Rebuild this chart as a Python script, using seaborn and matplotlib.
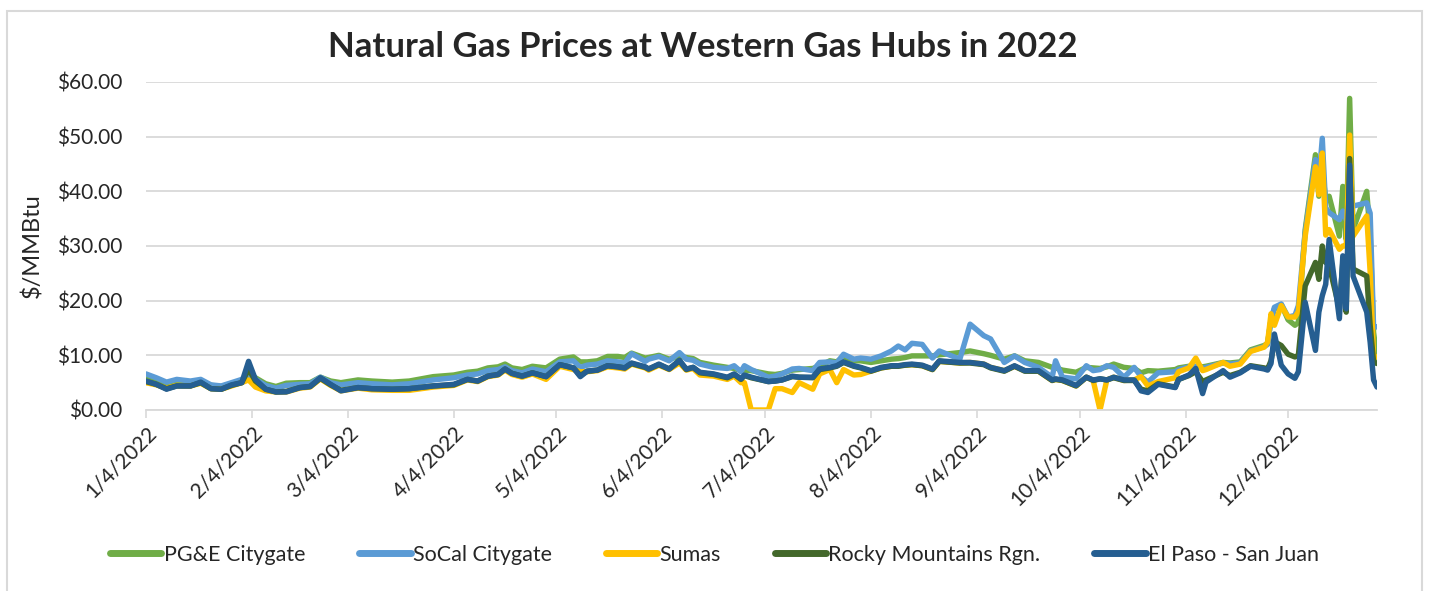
### natural gas prices at western hubs, 2022

import pandas as pd
import matplotlib.pyplot as plt
import matplotlib.dates as mdates
from matplotlib.patches import Rectangle
from matplotlib.ticker import FuncFormatter
import seaborn as sns

dates = [
    "01-04", "01-07", "01-10", "01-13", "01-17", "01-20", "01-23", "01-26", "01-29", "02-01",
    "02-03", "02-05", "02-08", "02-11", "02-14", "02-18", "02-21", "02-24", "02-27", "03-02",
    "03-07", "03-11", "03-17", "03-22", "03-29", "04-04", "04-08", "04-11", "04-14", "04-17",
    "04-19", "04-21", "04-24", "04-27", "05-01", "05-05", "05-09", "05-11", "05-13", "05-16",
    "05-19", "05-22", "05-24", "05-26", "05-30", "05-31", "06-03", "06-06", "06-09", "06-11",
    "06-13", "06-15", "06-19", "06-23", "06-25", "06-27", "06-28", "06-30", "07-05", "07-07",
    "07-09", "07-12", "07-14", "07-18", "07-20", "07-23", "07-25", "07-27", "07-30", "08-01",
    "08-04", "08-07", "08-10", "08-12", "08-14", "08-16", "08-19", "08-22", "08-24", "08-30",
    "09-02", "09-06", "09-08", "09-12", "09-15", "09-18", "09-22", "09-26", "09-27", "09-29",
    "10-03", "10-06", "10-08", "10-10", "10-12", "10-14", "10-17", "10-20", "10-22", "10-24",
    "10-27", "11-01", "11-02", "11-05", "11-07", "11-09", "11-10", "11-15", "11-17", "11-20",
    "11-23", "11-27", "11-28", "11-29", "11-30", "12-02", "12-04", "12-06", "12-07", "12-09",
    "12-12", "12-13", "12-14", "12-15", "12-16", "12-19", "12-20", "12-21", "12-22", "12-23",
    "12-27", "12-28", "12-29", "12-30",
]

pge = [
    5.8, 5.6, 4.9, 5.3, 5.1, 5.4, 4.5, 4.3, 4.8, 5.4,
    6.2, 5.9, 4.8, 4.3, 4.9, 5.0, 5.0, 6.0, 5.3, 5.0,
    5.5, 5.3, 5.1, 5.3, 6.1, 6.4, 6.9, 7.1, 7.7, 7.9,
    8.4, 7.7, 7.4, 8.0, 7.7, 9.3, 9.7, 8.8, 8.8, 9.0,
    9.8, 9.8, 9.6, 10.4, 9.5, 9.6, 10.0, 9.3, 9.8, 9.6,
    9.4, 8.7, 8.2, 7.8, 7.6, 7.2, 7.3, 7.2, 6.6, 6.5,
    6.7, 7.3, 7.4, 7.6, 8.0, 9.0, 8.8, 9.8, 9.0, 9.0,
    8.7, 9.0, 9.3, 9.4, 9.6, 9.9, 9.9, 9.9, 10.1, 10.5,
    10.8, 10.3, 10.0, 9.3, 9.9, 9.0, 8.7, 7.8, 7.7, 7.3,
    6.9, 7.8, 7.7, 7.6, 7.9, 8.4, 7.8, 7.6, 6.8, 7.2,
    7.1, 7.4, 7.7, 8.0, 8.0, 7.9, 8.0, 8.7, 8.6, 8.8,
    11.0, 11.8, 12.2, 16.5, 18.5, 19.3, 16.5, 15.5, 16.0, 33.0,
    46.7, 39.1, 44.0, 38.5, 39.1, 31.8, 40.9, 31.2, 57.0, 33.0,
    40.0, 32.0, 14.2, 9.4,
]

socal = [
    6.6, 5.9, 5.1, 5.6, 5.3, 5.6, 4.6, 4.4, 5.0, 5.6,
    6.5, 5.6, 4.5, 4.0, 4.5, 4.7, 4.8, 6.0, 5.0, 4.6,
    5.0, 4.8, 4.6, 4.8, 5.5, 5.9, 6.4, 6.6, 7.2, 7.4,
    7.9, 7.2, 6.8, 7.5, 7.0, 8.8, 9.0, 7.8, 8.2, 8.4,
    9.0, 8.8, 8.6, 10.3, 8.9, 9.3, 9.8, 9.0, 10.5, 9.3,
    9.1, 8.4, 7.8, 7.6, 8.1, 7.0, 8.1, 7.4, 6.0, 6.2,
    6.6, 7.5, 7.6, 7.2, 8.7, 8.8, 8.6, 10.2, 9.3, 9.5,
    9.3, 9.9, 10.8, 11.7, 11.0, 12.2, 12.0, 9.5, 10.8, 9.3,
    15.7, 13.6, 13.0, 8.7, 9.9, 8.7, 7.8, 6.0, 9.0, 6.0,
    5.7, 8.1, 7.2, 7.4, 8.1, 7.8, 6.0, 7.8, 6.1, 5.1,
    6.8, 7.0, 7.4, 7.9, 7.9, 7.6, 7.8, 8.6, 8.4, 8.6,
    10.8, 11.6, 12.0, 16.5, 18.8, 19.4, 17.0, 17.3, 19.1, 32.5,
    45.8, 42.1, 49.7, 37.0, 36.1, 34.8, 36.4, 34.8, 36.0, 37.3,
    37.9, 36.0, 15.2, 15.2,
]

sumas = [
    5.0, 4.6, 4.0, 4.5, 4.4, 4.9, 3.9, 3.8, 4.4, 5.0,
    5.5, 4.2, 3.5, 3.3, 3.3, 4.0, 4.2, 5.7, 4.5, 3.5,
    4.0, 3.7, 3.6, 3.6, 4.2, 4.5, 5.5, 5.2, 6.1, 6.4,
    7.3, 6.5, 6.0, 6.6, 5.6, 8.0, 7.4, 7.0, 7.0, 7.2,
    7.9, 7.7, 7.5, 8.4, 7.7, 7.3, 8.2, 7.4, 8.6, 7.3,
    7.6, 6.4, 6.2, 5.6, 6.2, 5.0, 5.0, 0.0, 0.0, 3.9,
    3.9, 3.2, 5.0, 3.8, 6.6, 7.4, 5.0, 7.4, 6.4, 6.5,
    7.1, 7.7, 8.0, 8.1, 8.2, 8.3, 8.1, 7.4, 8.9, 8.6,
    8.7, 8.4, 7.8, 7.2, 8.0, 7.2, 7.1, 5.4, 5.6, 5.4,
    4.4, 6.0, 5.4, 0.0, 5.5, 6.0, 5.4, 5.5, 6.1, 4.4,
    5.2, 5.9, 7.0, 7.7, 9.5, 7.2, 7.4, 8.7, 8.0, 8.4,
    10.7, 11.5, 12.4, 17.6, 15.5, 19.1, 17.0, 17.0, 18.0, 31.8,
    44.5, 39.4, 47.0, 32.0, 33.0, 29.4, 30.0, 30.0, 50.3, 31.8,
    35.5, 25.2, 9.7, 9.7,
]

rocky = [
    5.2, 4.7, 3.9, 4.4, 4.4, 5.0, 3.9, 3.8, 4.5, 5.0,
    7.5, 5.3, 3.8, 3.3, 3.4, 4.1, 4.3, 5.8, 4.6, 3.6,
    4.1, 3.9, 3.8, 3.9, 4.4, 4.6, 5.6, 5.3, 6.2, 6.5,
    7.5, 6.7, 6.2, 6.8, 6.1, 8.3, 7.7, 6.3, 7.1, 7.3,
    8.1, 7.9, 7.7, 8.5, 7.8, 7.5, 8.3, 7.5, 9.0, 7.4,
    7.8, 6.8, 6.5, 5.9, 6.5, 5.6, 6.3, 5.9, 5.2, 5.3,
    5.5, 6.1, 6.0, 5.9, 7.4, 7.7, 8.0, 8.7, 8.0, 7.7,
    7.1, 7.7, 8.0, 8.0, 8.2, 8.3, 8.1, 7.4, 8.9, 8.6,
    8.6, 8.3, 7.7, 7.1, 8.0, 7.1, 7.1, 5.4, 5.6, 5.4,
    4.4, 6.0, 5.4, 5.7, 5.5, 5.9, 5.4, 5.4, 3.8, 3.5,
    4.8, 4.2, 5.6, 6.3, 7.0, 5.2, 5.5, 6.9, 6.3, 6.9,
    8.1, 7.7, 7.5, 9.0, 12.5, 11.8, 10.2, 9.7, 10.0, 22.7,
    27.0, 23.9, 30.0, 27.0, 26.4, 18.5, 27.0, 17.9, 46.0, 25.8,
    24.5, 15.5, 8.8, 8.5,
]

el_paso = [
    5.3, 4.7, 3.8, 4.4, 4.4, 5.1, 3.9, 3.8, 4.6, 5.0,
    8.9, 5.6, 3.8, 3.3, 3.3, 4.1, 4.3, 5.9, 4.7, 3.5,
    4.1, 3.9, 3.8, 3.9, 4.4, 4.7, 5.6, 5.3, 6.2, 6.5,
    7.5, 6.7, 6.2, 6.8, 6.1, 8.3, 7.7, 6.1, 7.1, 7.3,
    8.1, 7.9, 7.7, 8.6, 7.9, 7.5, 8.4, 7.5, 9.1, 7.5,
    7.8, 6.9, 6.6, 6.0, 6.6, 5.7, 6.4, 6.0, 5.2, 5.3,
    5.5, 6.2, 6.0, 6.0, 7.5, 7.8, 8.1, 8.8, 8.1, 7.8,
    7.2, 7.8, 8.1, 8.1, 8.3, 8.4, 8.2, 7.5, 9.0, 8.7,
    8.7, 8.4, 7.8, 7.2, 8.1, 7.2, 7.2, 5.5, 5.7, 5.5,
    4.5, 6.0, 5.5, 5.7, 5.5, 6.0, 5.5, 5.5, 3.5, 3.2,
    4.7, 4.1, 5.6, 6.4, 7.6, 3.0, 5.1, 7.2, 6.0, 6.8,
    8.0, 7.5, 7.3, 8.5, 13.9, 8.2, 6.6, 5.8, 7.0, 19.7,
    10.9, 17.9, 20.9, 23.0, 31.2, 16.7, 28.2, 18.5, 44.8, 24.5,
    17.9, 12.4, 5.5, 4.2,
]

hubs = ["PG&E Citygate", "SoCal Citygate", "Sumas", "Rocky Mountains Rgn.", "El Paso - San Juan"]
colors = ["#70AD47", "#5B9BD5", "#FFC000", "#43682B", "#255E91"]

df = pd.DataFrame({
    "Date": pd.to_datetime(["2022-" + d for d in dates]),
    hubs[0]: pge,
    hubs[1]: socal,
    hubs[2]: sumas,
    hubs[3]: rocky,
    hubs[4]: el_paso,
})
long = df.melt("Date", var_name="Hub", value_name="Price")

sns.set_style("white")
plt.rcParams["font.family"] = ["Lato", "DejaVu Sans"]

fig = plt.figure(figsize=(14.29, 5.91), dpi=100)
ax = fig.add_axes([146 / 1429, 1 - 410 / 591, (1377 - 146) / 1429, (410 - 82) / 591])

sns.lineplot(data=long, x="Date", y="Price", hue="Hub", hue_order=hubs,
             palette=colors, linewidth=3.9, ax=ax)

# axes
ax.set_ylim(0, 60)
ax.set_yticks(range(0, 61, 10))
ax.yaxis.set_major_formatter(FuncFormatter(lambda v, p: f"${v:,.2f}"))
ax.set_xlim(pd.Timestamp("2022-01-04"), pd.Timestamp("2022-12-30"))
# ticks on the 4th of every month
ax.set_xticks(pd.date_range("2022-01-01", "2022-12-01", freq="MS") + pd.Timedelta(days=3))
ax.xaxis.set_major_formatter(FuncFormatter(
    lambda v, p: (lambda d: f"{d.month}/{d.day}/{d.year}")(mdates.num2date(v))))
ax.tick_params(axis="x", which="major", length=6, width=1.2, color="#d9d9d9",
               labelsize=15, pad=3, direction="out", bottom=True)
ax.tick_params(axis="y", length=0, labelsize=15, pad=17)
for lbl in ax.get_xticklabels():
    lbl.set_rotation(45)
    lbl.set_ha("right")
    lbl.set_rotation_mode("anchor")

ax.grid(axis="y", color="#d9d9d9", linewidth=1.3)
ax.grid(axis="x", visible=False)
for side in ["left", "right", "top"]:
    ax.spines[side].set_visible(False)
ax.spines["bottom"].set_color("#d9d9d9")
ax.spines["bottom"].set_linewidth(1.3)
ax.set_axisbelow(True)

ax.set_xlabel("")
ax.set_ylabel("$/MMBtu", fontsize=17, labelpad=10)

# legend below
handles, labels = ax.get_legend_handles_labels()
ax.get_legend().remove()
for h in handles:
    h.set_linewidth(5)
fig.legend(handles, labels, loc="center", bbox_to_anchor=(0.5, 1 - 555 / 591), ncol=5,
           frameon=False, fontsize=15.5, handlelength=2.4, handletextpad=0.1, columnspacing=2.5)

fig.suptitle("Natural Gas Prices at Western Gas Hubs in 2022", x=0.492, y=1 - 47 / 591,
             va="center", fontsize=25, fontweight="bold")

# chart border
fig.patches.append(Rectangle((7 / 1429, -0.01), 1415 / 1429, 1 - 11 / 591 + 0.01,
                             transform=fig.transFigure, fill=False,
                             edgecolor="#d9d9d9", linewidth=1.5))

fig.savefig("out.png", dpi=100)
